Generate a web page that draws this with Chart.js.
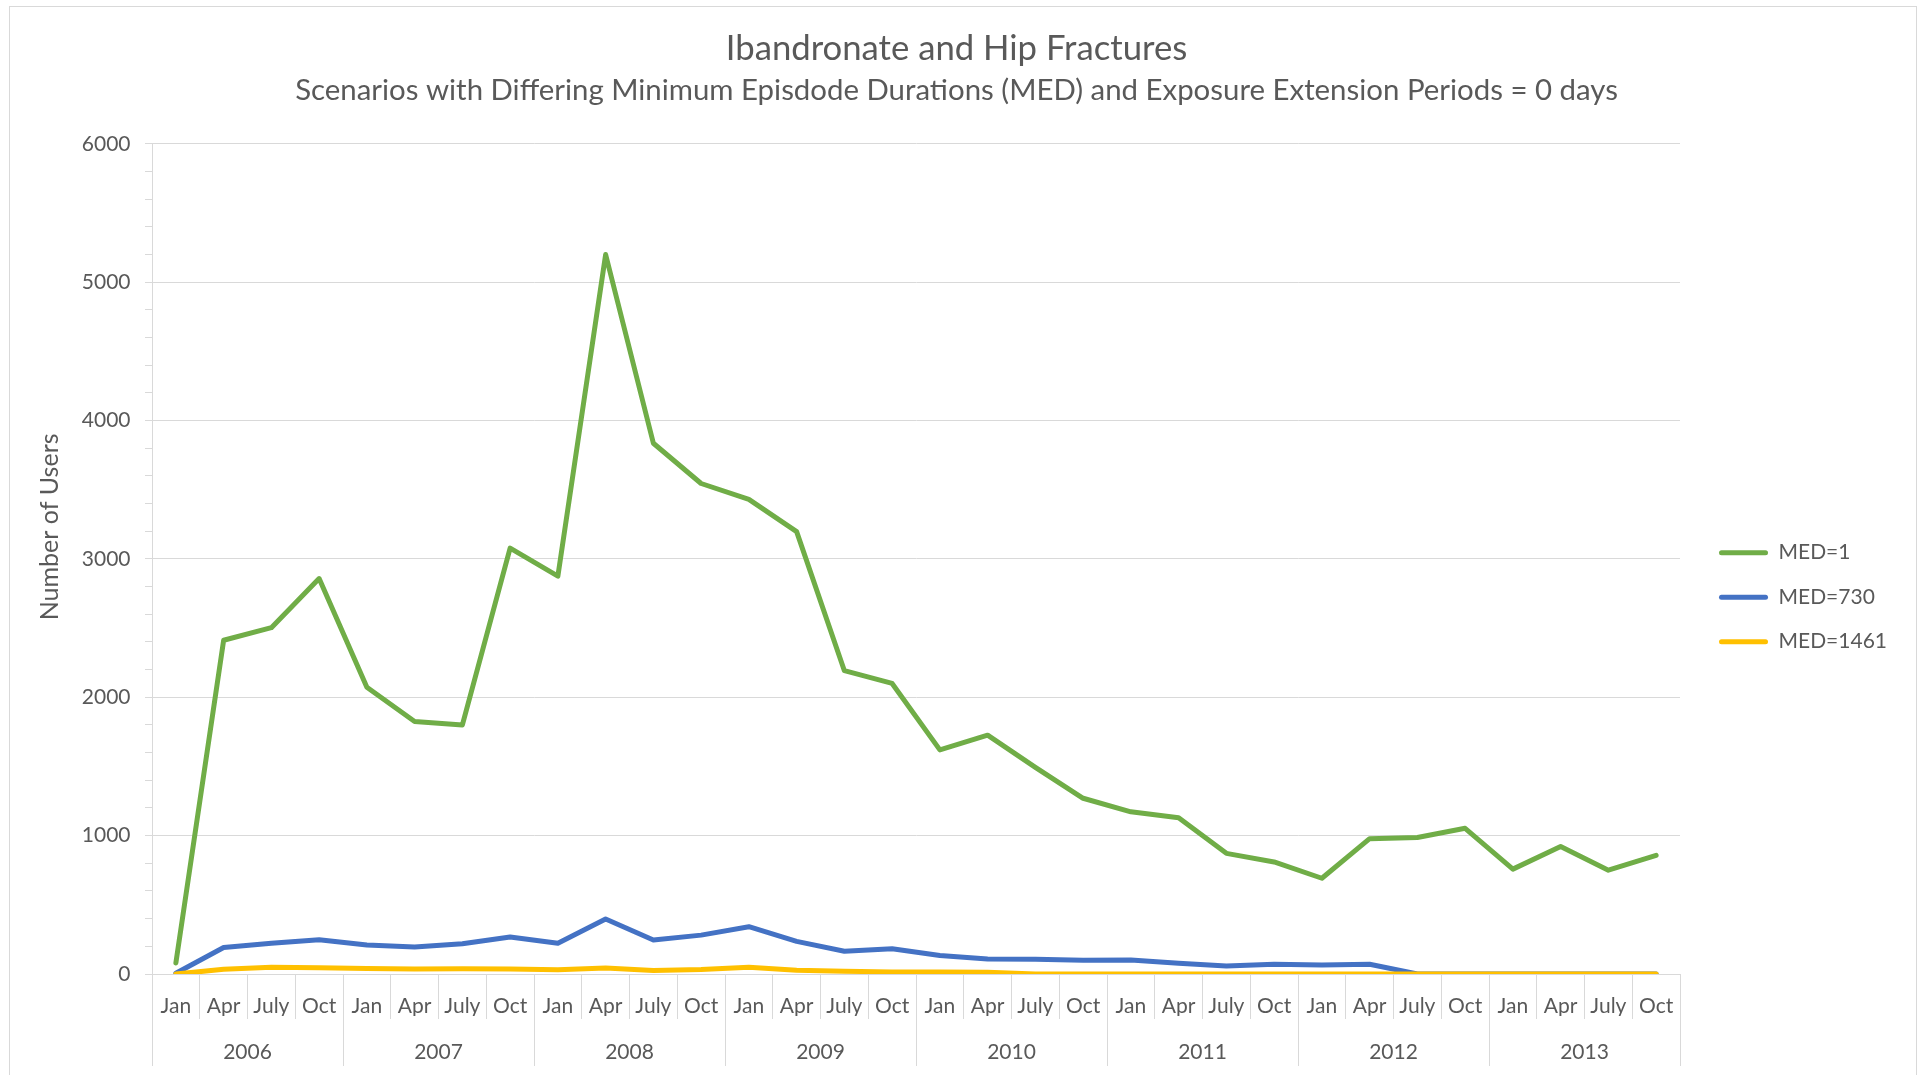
<!DOCTYPE html>
<html>
<head>
<meta charset="utf-8">
<script src="https://cdn.jsdelivr.net/npm/chart.js@4.4.1/dist/chart.umd.min.js"></script>
<style>
  html, body { margin: 0; padding: 0; background: #fff; overflow: hidden; }
  #frame { position: absolute; left: 9px; top: 6px; width: 1908px; height: 1100px; border: 1px solid #d9d9d9; box-sizing: border-box; }
  #box { position: absolute; left: 0; top: 0; width: 1919px; height: 1075px; }
</style>
</head>
<body>
<div id="frame"></div>
<div id="box"><canvas id="chart" width="1919" height="1075"></canvas></div>
<script>
const years = ['2006', '2007', '2008', '2009', '2010', '2011', '2012', '2013'];
const quarters = ['Jan', 'Apr', 'July', 'Oct'];
const monthLabels = years.flatMap(() => quarters);

const med1 = [80, 2412, 2503, 2858, 2073, 1825, 1800, 3078, 2875, 5200, 3836, 3545,
  3430, 3197, 2192, 2100, 1620, 1726, 1493, 1270, 1172, 1130, 872, 810,
  692, 978, 986, 1053, 758, 922, 750, 858];
const med730 = [5, 192, 222, 247, 210, 195, 219, 267, 222, 397, 246, 281,
  342, 236, 164, 183, 134, 108, 106, 100, 102, 78, 58, 71,
  65, 70, 0, 0, 0, 0, 0, 0];
const med1461 = [0, 34, 49, 45, 40, 36, 38, 36, 31, 44, 26, 33,
  48, 27, 20, 15, 15, 12, 0, 0, 0, 0, 0, 0,
  0, 0, 0, 0, 0, 0, 0, 0];

const GRID = '#d9d9d9';
const TEXT = '#595959';

Chart.defaults.font.family = 'Lato';
Chart.defaults.color = TEXT;

function line(label, data, color, order) {
    return {
        label: label,
        data: data,
        borderColor: color,
        backgroundColor: color,
        borderWidth: 5,
        pointRadius: 0,
        tension: 0,
        borderCapStyle: 'round',
        borderJoinStyle: 'round',
        order: order,
    };
}

new Chart(document.getElementById('chart'), {
    type: 'line',
    data: {
        labels: monthLabels,
        datasets: [
            line('MED=1', med1, '#70ad47', 2),
            line('MED=730', med730, '#4472c4', 1),
            line('MED=1461', med1461, '#ffc000', 0),
        ],
    },
    options: {
        responsive: false,
        animation: false,
        devicePixelRatio: 1,
        layout: { padding: { left: 16, right: 22, top: 8, bottom: 9 } },
        plugins: {
            tooltip: { enabled: false },
            title: {
                display: true,
                text: 'Ibandronate and Hip Fractures',
                color: TEXT,
                font: { size: 34.7, weight: 'normal' },
                padding: { top: 19.5, bottom: 2 },
            },
            subtitle: {
                display: true,
                text: 'Scenarios with Differing Minimum Episdode Durations (MED) and Exposure Extension Periods = 0 days',
                color: TEXT,
                font: { size: 29.4, weight: 'normal' },
                padding: { top: 2, bottom: 35.4 },
            },
            legend: {
                position: 'right',
                title: { display: true, text: ' ', font: { size: 12 }, padding: { top: 0, bottom: 106 } },
                labels: {
                    boxWidth: 49,
                    boxHeight: 5,
                    padding: 23.5,
                    color: TEXT,
                    font: { size: 21 },
                    useBorderRadius: true,
                    borderRadius: 2.5,
                    sort: (a, b) => a.datasetIndex - b.datasetIndex,
                    generateLabels: (chart) => {
                        const items = Chart.defaults.plugins.legend.labels.generateLabels(chart);
                        items.forEach(it => { it.lineWidth = 0; });
                        return items;
                    },
                },
            },
        },
        scales: {
            x: {
                type: 'category',
                offset: true,
                grid: { offset: true, drawOnChartArea: false, tickLength: 45, color: GRID },
                border: { display: true, color: GRID },
                ticks: { autoSkip: false, maxRotation: 0, padding: -25.6, font: { size: 21 } },
                afterFit: (s) => { s.height = 42; },
            },
            x2: {
                type: 'category',
                labels: years,
                offset: true,
                position: 'bottom',
                grid: { offset: true, drawOnChartArea: false, tickLength: 50, color: GRID },
                border: { display: false },
                ticks: { autoSkip: false, maxRotation: 0, padding: -26, font: { size: 21 } },
                afterFit: (s) => { s.height = 50; },
            },
            y: {
                min: 0,
                max: 6000,
                ticks: {
                    stepSize: 200,
                    autoSkip: false,
                    padding: 14.5,
                    font: { size: 21 },
                    callback: (v) => (v % 1000 === 0 ? String(v) : ''),
                },
                grid: {
                    color: (ctx) => (ctx.tick && ctx.tick.value % 1000 === 0 ? GRID : 'rgba(0,0,0,0)'),
                    tickColor: GRID,
                    tickLength: 7,
                },
                border: { display: true, color: GRID },
                title: {
                    display: true,
                    text: '          Number of Users',
                    color: TEXT,
                    font: { size: 25 },
                    padding: { top: 18.5, bottom: 0 },
                },
                afterFit: (s) => { s.width = 136; },
            },
            yPad: {
                type: 'linear',
                position: 'right',
                grid: { display: false },
                border: { display: false },
                ticks: { display: false },
                afterFit: (s) => { s.width = 15.5; },
            },
        },
    },
});
</script>
</body>
</html>
